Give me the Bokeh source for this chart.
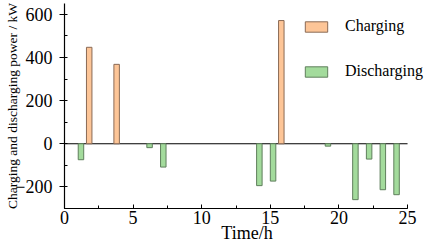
from bokeh.plotting import figure
from bokeh.models import ColumnDataSource, SingleIntervalTicker, Range1d, Legend, LegendItem
from bokeh.transform import dodge
from bokeh.embed import file_html
from bokeh.resources import INLINE

# Data
charge_hours = [2, 4, 16]
charge_power = [447, 368, 571]
discharge_hours = [1, 6, 7, 14, 15, 19, 21, 22, 23, 24]
discharge_power = [-74, -18, -108, -194, -173, -11, -259, -71, -213, -236]

x_label = "Time/h"
y_label = "Charging and discharging power / kW"
series_names = ["Charging", "Discharging"]

x_axis_start, x_axis_end = 0, 25
y_axis_start, y_axis_end = -300, 650

FONT = "Liberation Serif"

p = figure(width=429, height=249, output_backend="svg", toolbar_location=None,
           x_range=Range1d(x_axis_start, 26.6), y_range=Range1d(y_axis_start, y_axis_end),
           min_border_left=64, min_border_right=0, min_border_top=3, min_border_bottom=41)
p.outline_line_color = None
p.xgrid.visible = False
p.ygrid.visible = False
p.background_fill_color = "white"
p.border_fill_color = "white"

src_c = ColumnDataSource(dict(hour=charge_hours, power=charge_power))
src_d = ColumnDataSource(dict(hour=discharge_hours, power=discharge_power))

# zero baseline across the axis extent
p.segment(x0=[x_axis_start], y0=[0], x1=[x_axis_end], y1=[0], line_color="black", line_width=1.2)

rc = p.vbar(x=dodge("hour", -0.2), top="power", bottom=0, width=0.4, source=src_c,
            fill_color="#FDC597", line_color="#8a6a55", line_width=1)
rd = p.vbar(x=dodge("hour", 0.2), top="power", bottom=0, width=0.4, source=src_d,
            fill_color="#A3DB9C", line_color="#5f7f5c", line_width=1)

legend = Legend(items=[LegendItem(label=series_names[0], renderers=[rc]),
                       LegendItem(label=series_names[1], renderers=[rd])],
                location=(238, 128))
legend.background_fill_alpha = 0
legend.border_line_color = None
legend.padding = 0
legend.margin = 0
legend.glyph_width = 28
legend.glyph_height = 13
legend.label_height = 13
legend.spacing = 27
legend.label_standoff = 15
legend.label_text_font = FONT
legend.label_text_font_size = "16px"
legend.label_text_color = "black"
p.add_layout(legend, "center")

# X axis
xa = p.xaxis[0]
xa.bounds = (x_axis_start, x_axis_end)
xa.ticker = SingleIntervalTicker(interval=5, num_minor_ticks=2)
xa.axis_label = x_label
xa.axis_line_color = "black"
xa.axis_line_width = 1.2
xa.major_tick_in = 4
xa.major_tick_out = 0
xa.minor_tick_in = 3
xa.minor_tick_out = 0
xa.major_tick_line_color = "black"
xa.minor_tick_line_color = "black"
xa.major_label_standoff = 2
xa.major_label_text_font = FONT
xa.major_label_text_font_size = "18px"
xa.major_label_text_color = "black"
xa.axis_label_text_font = FONT
xa.axis_label_text_font_size = "18px"
xa.axis_label_text_font_style = "normal"
xa.axis_label_text_color = "black"
xa.axis_label_standoff = -4

# Y axis
ya = p.yaxis[0]
ya.ticker = SingleIntervalTicker(interval=200, num_minor_ticks=2)
ya.axis_label = y_label
ya.axis_line_color = "black"
ya.axis_line_width = 1.2
ya.major_tick_in = 0
ya.major_tick_out = 5
ya.minor_tick_in = 3
ya.minor_tick_out = 0
ya.major_tick_line_color = "black"
ya.minor_tick_line_color = "black"
ya.major_label_standoff = 7
ya.major_label_text_font = FONT
ya.major_label_text_font_size = "18px"
ya.major_label_text_color = "black"
ya.axis_label_text_font = FONT
ya.axis_label_text_font_size = "13.5px"
ya.axis_label_text_font_style = "normal"
ya.axis_label_text_color = "black"
ya.axis_label_standoff = -8

open("out.html", "w").write(file_html(p, INLINE))
